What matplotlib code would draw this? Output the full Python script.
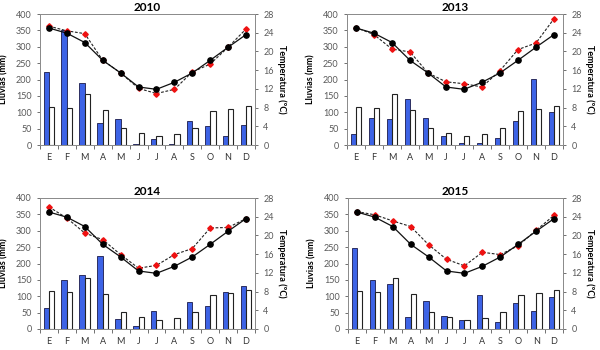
import numpy as np
import matplotlib
matplotlib.use('Agg')
import matplotlib.pyplot as plt
from matplotlib.ticker import FixedLocator

plt.rcParams['font.family'] = ['Lato', 'DejaVu Sans']

# ── Données ─────────────────────────────────────────────────────────
months = ['E', 'F', 'M', 'A', 'M', 'J', 'J', 'A', 'S', 'O', 'N', 'D']
years = ['2010', '2013', '2014', '2015']

# Pluie moyenne (barres blanches) et température moyenne (ligne noire)
rain_mean = [117, 112, 155, 107, 53, 38, 29, 33, 53, 105, 110, 118]
temp_mean = [25.0, 23.9, 21.9, 18.1, 15.4, 12.4, 11.9, 13.4, 15.4, 18.1, 20.9, 23.6]

rain_2010 = [222, 352, 188, 68, 78, 2, 17, 4, 72, 58, 28, 62]
rain_2013 = [35, 82, 79, 139, 82, 28, 7, 7, 21, 73, 203, 101]
rain_2014 = [63, 149, 165, 223, 30, 8, 55, 0, 81, 69, 114, 131]
rain_2015 = [247, 149, 138, 36, 87, 40, 27, 104, 21, 80, 54, 98]

temp_2010 = [25.4, 24.4, 23.8, 18.1, 15.4, 12.1, 11.0, 11.9, 15.6, 17.3, 20.9, 24.8]
temp_2013 = [25.1, 23.6, 20.5, 19.9, 15.4, 13.5, 13.1, 12.4, 15.9, 20.4, 21.8, 27.0]
temp_2014 = [26.1, 23.7, 20.5, 19.1, 15.9, 13.0, 13.6, 15.9, 17.2, 21.6, 21.7, 23.6]
temp_2015 = [25.1, 24.4, 23.1, 21.9, 18.0, 14.9, 13.5, 16.4, 15.9, 17.8, 21.1, 24.3]

rain_years = [rain_2010, rain_2013, rain_2014, rain_2015]
temp_years = [temp_2010, temp_2013, temp_2014, temp_2015]

BLUE = '#3d63e6'
GREY = '#595959'

fig = plt.figure(figsize=(6, 3.5), dpi=100, facecolor='white')
# positions (gauche, bas, largeur, hauteur) en fraction de la figure
boxes = [
    (40 / 600, 1 - 145 / 350, 215 / 600, 131 / 350),
    (347 / 600, 1 - 145 / 350, 216 / 600, 131 / 350),
    (40 / 600, 1 - 329 / 350, 215 / 600, 131 / 350),
    (348 / 600, 1 - 329 / 350, 215 / 600, 131 / 350),
]

x = np.arange(len(months))
w = 0.3

for box, year, rain, temp in zip(boxes, years, rain_years, temp_years):
    ax = fig.add_axes(box)
    ax.bar(x - w / 2, rain, width=w, color=BLUE, edgecolor='#1a1a4a', linewidth=0.6, zorder=2)
    ax.bar(x + w / 2, rain_mean, width=w, color='white', edgecolor='#222222', linewidth=0.8, zorder=2)
    ax.set_ylim(0, 400)
    ax.set_xlim(-0.5, 11.5)
    ax.set_yticks(range(0, 401, 50))
    ax.set_xticks(x)
    ax.set_xticklabels(months)
    ax.xaxis.set_minor_locator(FixedLocator(np.arange(-0.5, 12, 1)))
    ax.tick_params(axis='x', which='major', length=0, labelsize=6.5, colors='#333333', pad=6)
    ax.tick_params(axis='x', which='minor', length=3, color=GREY, width=0.6)
    ax.tick_params(axis='y', length=2.5, labelsize=6.5, colors=GREY, width=0.6)
    ax.set_ylabel('Lluvias (mm)', fontsize=6.5, fontweight='bold', labelpad=5)
    ax.set_title(year, fontsize=8.5, fontweight='bold', pad=2)

    ax2 = ax.twinx()
    ax2.plot(x, temp, color='#222222', linestyle=(0, (2.5, 1.5)), linewidth=0.8,
             marker='D', markersize=2.8, markerfacecolor='#ee1111', markeredgecolor='#ee1111', zorder=3)
    ax2.plot(x, temp_mean, color='#111111', linewidth=0.9,
             marker='o', markersize=3.8, markerfacecolor='black', markeredgecolor='black', zorder=4)
    ax2.set_ylim(0, 28)
    ax2.set_yticks(range(0, 29, 4))
    ax2.tick_params(axis='y', length=2.5, labelsize=6.5, colors=GREY, width=0.6)
    ax2.set_ylabel('Temperatura (ºC)', fontsize=6.5, fontweight='bold', rotation=270, labelpad=9)

    for a in (ax, ax2):
        for s in a.spines.values():
            s.set_color('#8c8c8c')
            s.set_linewidth(0.7)

fig.savefig('out.png', dpi=100, facecolor='white')
